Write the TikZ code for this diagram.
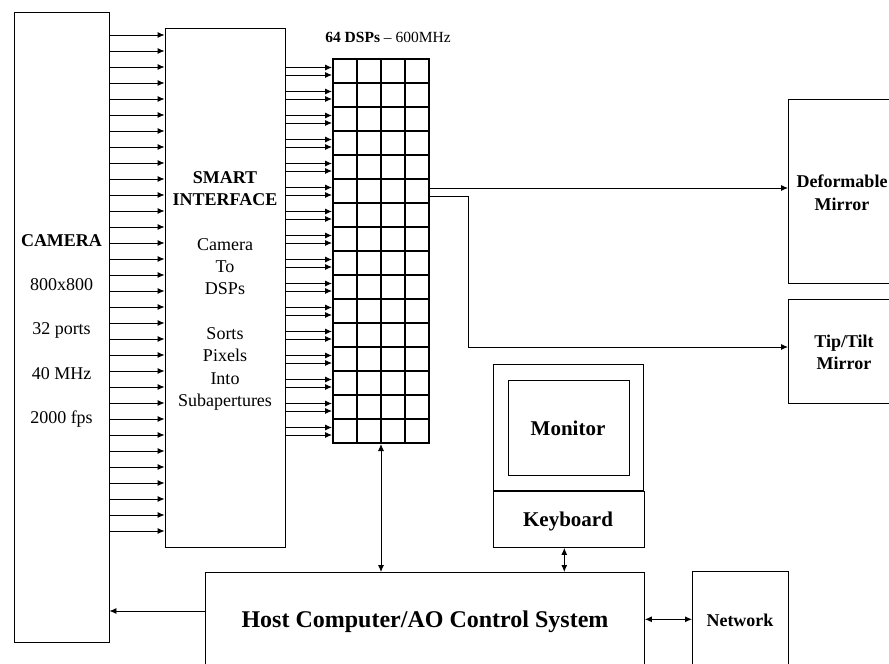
\documentclass[tikz,border=0pt]{standalone}
\usepackage{fontspec}
\setmainfont{Liberation Serif}
\usetikzlibrary{arrows.meta}
\begin{document}
\begin{tikzpicture}[x=1pt,y=-1pt,
  box/.style={draw,line width=0.9pt,inner sep=0pt},
  arr/.style={line width=0.9pt,-{Latex[length=7pt,width=6pt]}},
  darr/.style={line width=0.9pt,{Latex[length=7pt,width=6pt]}-{Latex[length=7pt,width=6pt]}},
  txt/.style={anchor=base,inner sep=0pt,font=\fontsize{18}{22}\selectfont},
  btxt/.style={txt,font=\fontsize{18}{22}\selectfont\bfseries},
  gridline/.style={line width=1.5pt}]
\useasboundingbox (0,0) rectangle (889,664);
\clip (0,0) rectangle (889,664);
% boxes
\node[box,minimum width=95pt,minimum height=630pt] (cam) at (61.5,327) {};
\node[box,minimum width=120pt,minimum height=519pt] (smart) at (225,287.5) {};
\node[draw,line width=2pt,inner sep=0pt,minimum width=96pt,minimum height=384pt] (dsp) at (381,251) {};
\node[box,minimum width=160pt,minimum height=184pt,anchor=north west] (dm) at (788,99) {};
\node[box,minimum width=160pt,minimum height=104pt,anchor=north west] (tt) at (788,299) {};
\node[box,minimum width=150pt,minimum height=126pt,anchor=north west] (mon) at (493,364) {};
\node[box,minimum width=121pt,minimum height=95pt,anchor=north west] (scr) at (508,380) {};
\node[box,minimum width=151pt,minimum height=56pt,anchor=north west] (kbd) at (493,491) {};
\node[box,minimum width=439pt,minimum height=150pt,anchor=north west] (host) at (205,572) {};
\node[box,minimum width=96pt,minimum height=150pt,anchor=north west] (net) at (692,571) {};
% DSP grid
\foreach \c in {357,381,405} \draw[gridline] (\c,59) -- (\c,443);
\foreach \r in {1,...,15} \draw[gridline] (333,59+24*\r) -- (429,59+24*\r);
% texts
\node[btxt] (camt) at (61.5,246) {CAMERA};
\node[txt] (c1) at (61.5,290) {800x800};
\node[txt] (c2) at (61.5,334.5) {32 ports};
\node[txt] (c3) at (61.5,379) {40 MHz};
\node[txt] (c4) at (61.5,423) {2000 fps};
\node[btxt] (s1) at (225,183) {SMART};
\node[btxt] (s2) at (225,205) {INTERFACE};
\node[txt] (s3) at (225,250.5) {Camera};
\node[txt] (s4) at (225,272.5) {To};
\node[txt] (s5) at (225,294.5) {DSPs};
\node[txt] (s6) at (225,339) {Sorts};
\node[txt] (s7) at (225,361) {Pixels};
\node[txt] (s8) at (225,384) {Into};
\node[txt] (s9) at (225,406) {Subapertures};
\node[txt,font=\fontsize{15.5}{18}\selectfont] (dspt) at (388,42) {\textbf{64 DSPs} -- 600MHz};
\node[btxt] (dm1) at (842,187.3) {Deformable};
\node[btxt] (dm2) at (842,210) {Mirror};
\node[btxt] (tt1) at (844,347.7) {Tip/Tilt};
\node[btxt] (tt2) at (844,369.3) {Mirror};
\node[btxt,font=\fontsize{21}{24}\selectfont\bfseries] (mont) at (568,435) {Monitor};
\node[btxt,font=\fontsize{21}{24}\selectfont\bfseries] (kbdt) at (568,526.7) {Keyboard};
\node[btxt,font=\fontsize{24}{28}\selectfont\bfseries] (hostt) at (425,627.7) {Host Computer/AO Control System};
\node[btxt] (nett) at (740,626) {Network};
% camera -> smart interface
\foreach \i in {0,...,31}
  \draw[arr] (cam.east |- {(0,35+16*\i)}) -- (smart.west |- {(0,35+16*\i)});
% smart interface -> DSPs
\foreach \r in {0,...,15} {
  \draw[arr] (smart.east |- {(0,59+24*\r+8.5)}) -- (dsp.west |- {(0,59+24*\r+8.5)});
  \draw[arr] (smart.east |- {(0,59+24*\r+16)}) -- (dsp.west |- {(0,59+24*\r+16)});
}
% DSP -> mirrors
\draw[arr] (dsp.east |- {(0,188)}) -- (dm.west |- {(0,188)});
\coordinate (bend1) at (468,196);
\coordinate (bend2) at (468,347);
\draw[arr] (dsp.east |- bend1) -- (bend1) -- (bend2) -- (tt.west |- bend2);
% DSP <-> host
\draw[darr] (dsp.south) -- (dsp.south |- host.north);
% keyboard <-> host
\draw[darr] (kbd.south -| {(564.3,0)}) -- (host.north -| {(564.3,0)});
% host <-> network
\draw[darr] (host.east |- {(0,619.3)}) -- (net.west |- {(0,619.3)});
% host -> camera
\draw[arr] (host.west |- {(0,611)}) -- (cam.east |- {(0,611)});
\end{tikzpicture}
\end{document}
